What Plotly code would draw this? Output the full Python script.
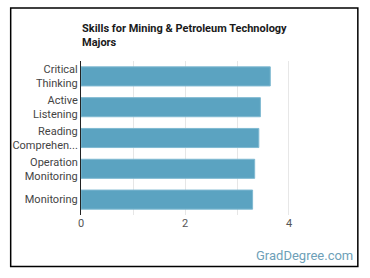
import plotly.graph_objects as go

categories = ["Critical<br>Thinking", "Active<br>Listening", "Reading<br>Comprehen...", "Operation<br>Monitoring", "Monitoring"]
values = [3.64, 3.45, 3.42, 3.34, 3.30]
x_ticks = [0, 1, 2, 3, 4]
x_tick_text = ["0", "", "2", "", "4"]

W, H = 370, 278
L, R, T, B = 79, 81, 61, 63
pw, ph = W - L - R, H - T - B

def px(x):
    return (x - L) / pw

def py(y):
    return (H - B - y) / ph

fig = go.Figure(go.Bar(
    y=categories, x=values, orientation="h",
    marker=dict(color="#5ba3c1", line=dict(color="#7fb9d1", width=1)),
))

fig.update_layout(
    width=W, height=H,
    margin=dict(l=L, r=R, t=T, b=B),
    paper_bgcolor="white", plot_bgcolor="white",
    bargap=0.38,
    showlegend=False,
    font=dict(family="Roboto", size=11, color="#444"),
    xaxis=dict(range=[0, 4], tickvals=x_ticks, ticktext=x_tick_text,
               showgrid=True, gridcolor="#e6e6e6", gridwidth=1,
               zeroline=False, showline=False, ticks="",
               tickfont=dict(size=11, color="#555")),
    yaxis=dict(autorange="reversed", showline=True, linecolor="#222", linewidth=1,
               ticks="", ticklen=0, showgrid=False,
               tickfont=dict(size=11, color="#444")),
    annotations=[
        dict(text="<b>Skills for Mining & Petroleum Technology<br>Majors</b>",
             x=px(78), y=py(20), xref="paper", yref="paper",
             xanchor="left", yanchor="top", align="left", showarrow=False,
             font=dict(family="Roboto", size=11, color="#1a1a1a")),
        dict(text="GradDegree.com", x=px(356), y=py(255), xref="paper", yref="paper",
             xanchor="right", yanchor="middle", showarrow=False,
             font=dict(family="Roboto", size=13, color="#6e9fb8")),
    ],
    shapes=[
        dict(type="rect", xref="paper", yref="paper",
             x0=px(8), x1=px(358.5), y0=py(266.5), y1=py(8),
             line=dict(color="black", width=1.5), layer="above"),
        dict(type="line", xref="x", yref="paper", x0=4, x1=4, y0=0, y1=1,
             line=dict(color="#cfcfcf", width=1)),
    ],
)

fig.write_html("out.html")
